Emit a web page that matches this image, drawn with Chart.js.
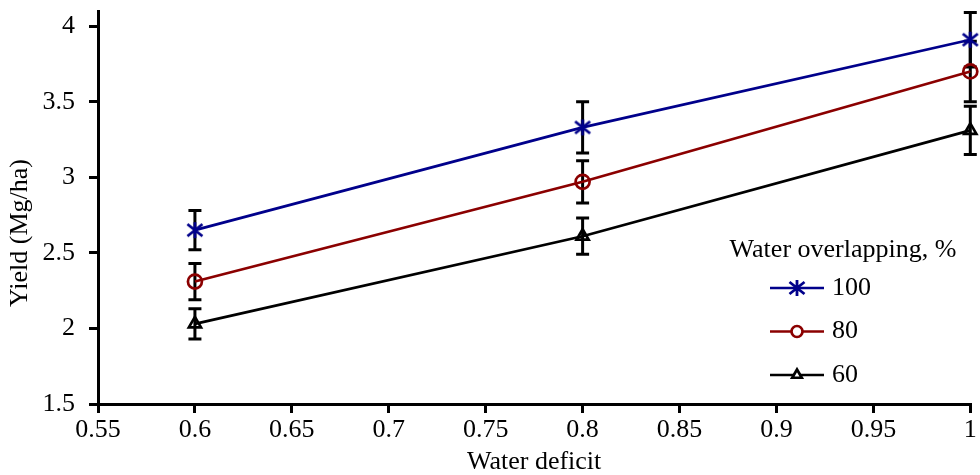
<!DOCTYPE html>
<html>
<head>
<meta charset="utf-8">
<script src="https://cdn.jsdelivr.net/npm/chart.js@4.4.1/dist/chart.umd.min.js"></script>
<style>
  html, body { margin: 0; padding: 0; background: #fff; }
  canvas { display: block; }
</style>
</head>
<body>
<canvas id="mainChart" width="980" height="475"></canvas>
<script>
const deficit = [0.6, 0.8, 1.0];
const yield100 = [2.65, 3.33, 3.91];
const yield80 = [2.31, 2.97, 3.70];
const yield60 = [2.03, 2.61, 3.31];
const err100 = [0.13, 0.17, 0.18];
const err80 = [0.12, 0.14, 0.20];
const err60 = [0.10, 0.12, 0.16];
const seriesLabels = ['100', '80', '60'];
const xTicks = [0.55, 0.6, 0.65, 0.7, 0.75, 0.8, 0.85, 0.9, 0.95, 1];
const yTicks = [1.5, 2, 2.5, 3, 3.5, 4];

const FONT = 'Liberation Serif, Times New Roman, serif';
const BLUE = '#00008b';
const RED = '#8b0000';

// asterisk marker (X with a vertical stroke), like the one in the original
function makeAsterisk(color) {
    const c = document.createElement('canvas');
    c.width = 20;
    c.height = 20;
    const g = c.getContext('2d');
    g.strokeStyle = color;
    g.lineWidth = 2.8;
    g.beginPath();
    g.moveTo(10, 2); g.lineTo(10, 18);
    g.moveTo(2.5, 4); g.lineTo(17.5, 16);
    g.moveTo(17.5, 4); g.lineTo(2.5, 16);
    g.stroke();
    return c;
}

function toPoints(ys) {
    return deficit.map((x, i) => ({x: x, y: ys[i]}));
}

function makeSeries(label, ys, errs, color, style) {
    return {
        label: label,
        data: toPoints(ys),
        errors: errs,
        borderColor: color,
        backgroundColor: color,
        borderWidth: 2.7,
        tension: 0,
        fill: false,
        clip: false,
        pointStyle: style,
        pointRadius: 7,
        pointBorderWidth: 2.7,
        pointBorderColor: color,
        pointBackgroundColor: 'rgba(0,0,0,0)',
    };
}

const errorBars = {
    id: 'errorBars',
    beforeDatasetsDraw(chart) {
        const {ctx, scales: {x, y}} = chart;
        ctx.save();
        ctx.strokeStyle = '#000';
        ctx.lineWidth = 3;
        chart.data.datasets.forEach(ds => {
            ds.data.forEach((pt, i) => {
                const px = x.getPixelForValue(pt.x);
                const top = y.getPixelForValue(pt.y + ds.errors[i]);
                const bot = y.getPixelForValue(pt.y - ds.errors[i]);
                ctx.beginPath();
                ctx.moveTo(px, top);
                ctx.lineTo(px, bot);
                ctx.moveTo(px - 6.5, top);
                ctx.lineTo(px + 6.5, top);
                ctx.moveTo(px - 6.5, bot);
                ctx.lineTo(px + 6.5, bot);
                ctx.stroke();
            });
        });
        ctx.restore();
    }
};

const sideText = {
    id: 'sideText',
    afterDraw(chart) {
        const ctx = chart.ctx;
        ctx.save();
        ctx.fillStyle = '#000';
        ctx.font = '26px ' + FONT;

        // y axis title
        ctx.save();
        ctx.translate(20, 233);
        ctx.rotate(-Math.PI / 2);
        ctx.textAlign = 'center';
        ctx.textBaseline = 'middle';
        ctx.fillText('Yield (Mg/ha)', 0, 0);
        ctx.restore();

        // legend
        ctx.textAlign = 'center';
        ctx.textBaseline = 'middle';
        ctx.fillText('Water overlapping, %', 843, 250);
        ctx.textAlign = 'left';
        chart.data.datasets.forEach((ds, i) => {
            const ly = 288 + i * 43.5;
            ctx.strokeStyle = ds.borderColor;
            ctx.lineWidth = ds.borderWidth;
            ctx.beginPath();
            ctx.moveTo(770, ly);
            ctx.lineTo(824, ly);
            ctx.stroke();
            ctx.fillStyle = '#fff';
            ctx.strokeStyle = ds.pointBorderColor;
            ctx.lineWidth = ds.pointBorderWidth;
            Chart.helpers.drawPoint(ctx, {
                pointStyle: ds.pointStyle,
                radius: typeof ds.pointStyle === 'string' ? 5.5 : ds.pointRadius,
                rotation: 0,
                borderWidth: ds.pointBorderWidth,
            }, 797, ly);
            ctx.fillStyle = '#000';
            ctx.fillText(ds.label, 832, ly);
        });
        ctx.restore();
    }
};

const tickFont = {family: FONT, size: 26};

new Chart(document.getElementById('mainChart'), {
    type: 'line',
    data: {
        datasets: [
            makeSeries(seriesLabels[0], yield100, err100, BLUE, makeAsterisk(BLUE)),
            makeSeries(seriesLabels[1], yield80, err80, RED, 'circle'),
            makeSeries(seriesLabels[2], yield60, err60, '#000', 'triangle'),
        ],
    },
    options: {
        responsive: false,
        animation: false,
        devicePixelRatio: 1,
        layout: {padding: {top: 11, right: 9, left: 0, bottom: 0}},
        plugins: {
            legend: {display: false},
            tooltip: {enabled: false},
        },
        scales: {
            x: {
                type: 'linear',
                min: 0.55,
                max: 1,
                afterBuildTicks: s => { s.ticks = xTicks.map(v => ({value: v})); },
                afterFit: s => { s.height = 71; s.paddingLeft = 0; s.paddingRight = 0; },
                ticks: {
                    callback: v => String(+v.toFixed(2)),
                    font: tickFont,
                    color: '#000',
                    padding: 2,
                    maxRotation: 0,
                    autoSkip: false,
                },
                grid: {drawOnChartArea: false, drawTicks: true, tickLength: 9, color: '#000', lineWidth: 3},
                border: {color: '#000', width: 3},
                title: {
                    display: true,
                    text: 'Water deficit',
                    color: '#000',
                    font: {family: FONT, size: 26, lineHeight: 1},
                    padding: {top: 0, bottom: 0},
                },
            },
            y: {
                type: 'linear',
                min: 1.5,
                max: 4.1,
                afterBuildTicks: s => { s.ticks = yTicks.map(v => ({value: v})); },
                afterFit: s => { s.width = 98; s.paddingTop = 0; s.paddingBottom = 0; },
                ticks: {
                    callback: v => String(v),
                    font: tickFont,
                    color: '#000',
                    padding: 14,
                },
                grid: {drawOnChartArea: false, drawTicks: true, tickLength: 9, color: '#000', lineWidth: 3},
                border: {color: '#000', width: 3},
            },
        },
    },
    plugins: [errorBars, sideText],
});
</script>
</body>
</html>
